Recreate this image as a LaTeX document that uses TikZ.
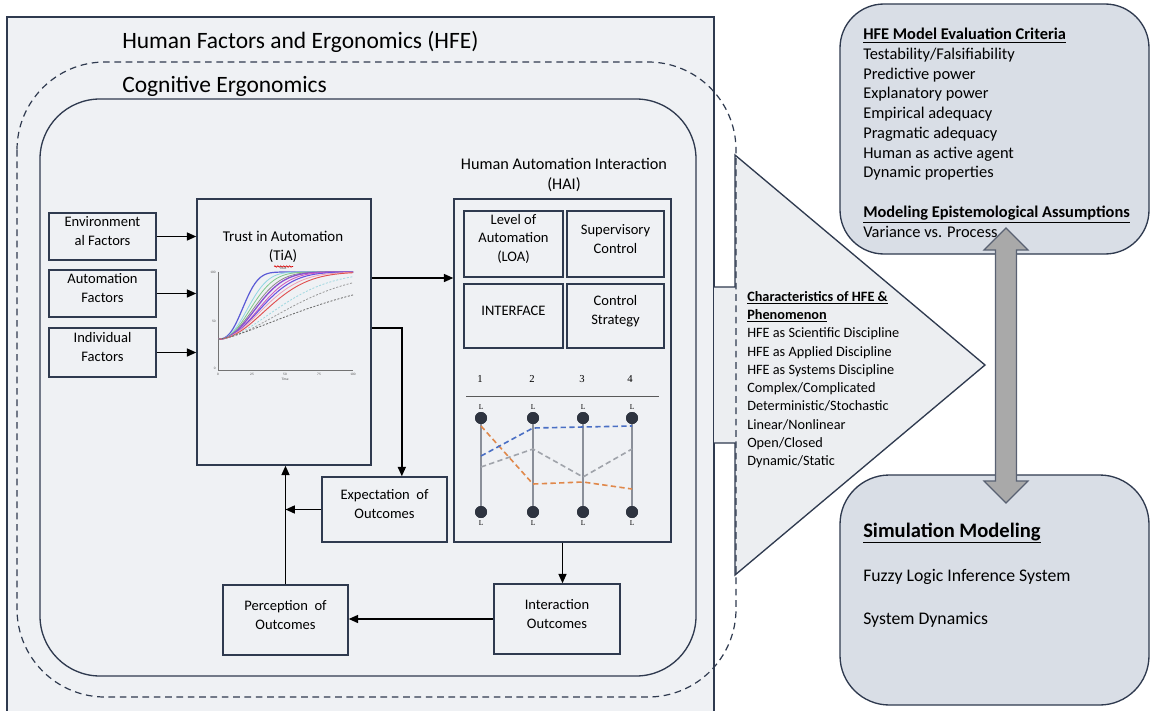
\documentclass[tikz,border=0pt]{standalone}
\usepackage{fontspec}
\setmainfont{Carlito}
\newfontfamily\chartserif{Liberation Serif}
\usetikzlibrary{fit,arrows.meta,decorations.pathmorphing}
\definecolor{bgfill}{HTML}{EFF1F4}
\definecolor{trifill}{HTML}{ECEEF1}
\definecolor{navy}{HTML}{2F3A4F}
\definecolor{rfill}{HTML}{D9DEE6}
\definecolor{arrfill}{HTML}{A9A9A9}
\definecolor{axisgray}{HTML}{8A8F99}
\definecolor{dotc}{HTML}{2E3440}
\definecolor{lblue}{HTML}{4A6FC4}
\definecolor{lorange}{HTML}{E0884A}
\definecolor{lgray}{HTML}{A0A4AB}
\definecolor{cA}{HTML}{5B5BD6}
\definecolor{cB}{HTML}{8FD6E3}
\definecolor{cC}{HTML}{7FC98A}
\definecolor{cD}{HTML}{8C8C8C}
\definecolor{cE}{HTML}{8A4FD0}
\definecolor{cF}{HTML}{D060C0}
\definecolor{cG}{HTML}{6A50E0}
\definecolor{cH}{HTML}{F0A0B5}
\definecolor{cI}{HTML}{E05050}
\definecolor{cJ}{HTML}{9FD8E0}
\newcommand\boxfont{\fontsize{10.9}{14.2}\selectfont}
\tikzset{
  box/.style={draw=navy, line width=1.1pt, fill=bgfill, inner sep=0pt, align=center, font=\boxfont},
  rbox/.style={draw=navy, line width=1pt, fill=rfill, inner sep=0pt},
  arr/.style={draw=black, line width=1.1pt, -{Triangle[length=7pt,width=6pt]}},
  dotn/.style={circle, fill=dotc, inner sep=0pt, minimum size=9pt},
  axl/.style={draw=axisgray, line width=0.9pt},
  pcl/.style={line width=1.2pt, dash pattern=on 4pt off 2.5pt},
  tl/.style={font=\chartserif\fontsize{5.5}{6}\selectfont, inner sep=0pt},
  tick/.style={font=\fontsize{2.6}{3}\selectfont, inner sep=0pt, text=black!70},
}
\begin{document}
\begin{tikzpicture}[x=0.75pt,y=-0.75pt]
\useasboundingbox (0,0) rectangle (1152,710);
\fill[white] (0,0) rectangle (1152,710);

% HFE outer rectangle
\draw[navy, line width=1pt, fill=bgfill] (7,17) -- (7,720) -- (714,720) -- (714,17) -- cycle;
\node[anchor=west, font=\fontsize{17.6}{20}\selectfont, inner sep=0pt] (hfeTitle) at (122,42) {Human Factors and Ergonomics (HFE)};

% block arrow (characteristics)
\fill[trifill] (714,287) -- (735,287) -- (735,155) -- (985,365) -- (735,575) -- (735,443) -- (714,443) -- cycle;
\draw[navy, line width=1pt] (714,287) -- (735,287) -- (735,155) -- (985,365) -- (735,575) -- (735,443) -- (714,443);

% dashed cognitive ergonomics region
\draw[navy, line width=0.9pt, dash pattern=on 5pt off 3.5pt, rounded corners=66pt] (17,62) rectangle (736,697);
\node[anchor=west, font=\fontsize{17.6}{20}\selectfont, inner sep=0pt] (ceTitle) at (122,86) {Cognitive Ergonomics};

% inner rounded region
\draw[navy, line width=1pt, fill=bgfill, rounded corners=45pt] (40,99) rectangle (696,676);

% factor boxes
\node[box, fit={(49,213)(156,260)}] (env) {Environment\\al Factors};
\node[box, fit={(49,270)(156,317)}] (autof) {Automation\\Factors};
\node[box, fit={(49,328)(156,377)}] (indiv) {Individual\\Factors};

% TiA box
\node[box, fit={(197,199)(371,465)}] (tia) {};
\node[align=center, font=\fontsize{11.2}{14}\selectfont, inner sep=0pt] (tiaTitle) at (283,247) {Trust in Automation\\(TiA)};
\draw[red!85!black, line width=0.5pt, decorate, decoration={snake, amplitude=0.5pt, segment length=2.2pt}] (274,266.5) -- (293,266.5);

% TiA plot
\draw[black!55, line width=0.4pt] (218,272) -- (218,370) -- (353,370);
\node[tick, anchor=east] (yt100) at (216,272) {100};
\node[tick, anchor=east] (yt50) at (216,321) {50};
\node[tick, anchor=east] (yt0) at (216,368) {0};
\node[tick] (xt0) at (218,374) {0};
\node[tick] (xt25) at (252,374) {25};
\node[tick] (xt50) at (285,374) {50};
\node[tick] (xt75) at (319,374) {75};
\node[tick] (xt100) at (353,374) {100};
\node[tick] (xlab) at (285,379) {Time};
\node[tick] (ptitle) at (283,268) {Trust};
\foreach \tau/\n/\c/\w in {22/2.6/cA/0.9, 27/2.4/cB/0.6, 30/2.3/cC/0.6, 33/2.2/cD/0.6, 35/2.2/cE/1.0, 38/2.2/cF/0.7, 40/2.1/cG/0.8, 43/2.0/cH/0.6, 47/2.0/cI/0.7}{
  \draw[\c, line width=\w pt] plot[domain=0.1:100, samples=45, smooth] ({218+1.35*\x},{368-0.96*(30+70*(1-exp(-((\x/\tau)^\n))))});
}
\draw[cJ, line width=0.6pt, dash pattern=on 1.5pt off 1.2pt] plot[domain=0.1:100, samples=45, smooth] ({218+1.35*\x},{368-0.96*(30+70*(1-exp(-((\x/58)^1.8))))});
\draw[black!40, line width=0.6pt, dash pattern=on 1.5pt off 1.2pt] plot[domain=0.1:100, samples=45, smooth] ({218+1.35*\x},{368-0.96*(30+70*(1-exp(-((\x/70)^1.7))))});
\draw[black!60, line width=0.6pt, dash pattern=on 1.5pt off 1.2pt] plot[domain=0.1:100, samples=45, smooth] ({218+1.35*\x},{368-0.96*(30+70*(1-exp(-((\x/95)^1.4))))});

% HAI
\node[align=center, font=\fontsize{12.2}{15}\selectfont, inner sep=0pt] (haiTitle) at (564,175) {Human Automation Interaction\\(HAI)};
\node[box, fit={(454,199)(671,542)}] (hai) {};
\node[box, fit={(464,211)(563,277)}] (loa) {Level of\\Automation\\(LOA)};
\node[box, fit={(567,211)(664,277)}] (sup) {Supervisory\\Control};
\node[box, fit={(464,284)(563,348)}] (intf) {INTERFACE};
\node[box, fit={(567,284)(664,348)}] (ctrl) {Control\\Strategy};

% parallel coordinates chart
\node[font=\chartserif\fontsize{8}{9}\selectfont, inner sep=0pt] (n1) at (480,379) {1};
\node[font=\chartserif\fontsize{8}{9}\selectfont, inner sep=0pt] (n2) at (532,379) {2};
\node[font=\chartserif\fontsize{8}{9}\selectfont, inner sep=0pt] (n3) at (582,379) {3};
\node[font=\chartserif\fontsize{8}{9}\selectfont, inner sep=0pt] (n4) at (630,379) {4};
\coordinate (hl1) at (466,396);
\coordinate (hl2) at (659,396);
\draw[black!65, line width=0.7pt] (hl1) -- (hl2);
\foreach \i/\xx in {1/481,2/533,3/583,4/632}{
  \node[dotn] (t\i) at (\xx,418) {};
  \node[dotn] (b\i) at (\xx,512) {};
  \draw[axl] (t\i) -- (b\i);
  \node[tl] (lt\i) at (\xx,407) {L};
  \node[tl] (lb\i) at (\xx,523) {L};
}
\draw[lorange, pcl] (481,426) -- (533,484) -- (583,482) -- (632,489);
\draw[lgray, pcl] (481,467) -- (533,449) -- (583,477) -- (632,449);
\draw[lblue, pcl] (481,456) -- (533,428) -- (583,427) -- (632,426);
\foreach \i in {1,2,3,4}{\node[dotn] at (t\i) {}; \node[dotn] at (b\i) {};}

% outcome boxes
\node[box, fit={(322,477)(447,542)}] (expect) {Expectation\ \ of\\Outcomes};
\node[box, fit={(223,585)(348,655)}] (percep) {Perception\ \ of\\Outcomes};
\node[box, fit={(494,584)(620,654)}] (inter) {Interaction\\Outcomes};

% connectors
\draw[arr] (env.east) -- (env.east -| tia.west);
\draw[arr] (autof.east) -- (autof.east -| tia.west);
\draw[arr] (indiv.east) -- (indiv.east -| tia.west);
\coordinate (tiaOutA) at ([yshift=40.5pt]tia.east);
\coordinate (tiaOutB) at ([yshift=3pt]tia.east);
\coordinate (expIn) at ([xshift=13pt]expect.north);
\draw[arr] (tiaOutA) -- (tiaOutA -| hai.west);
\draw[arr] (tiaOutB) -| (expIn);
\draw[arr] (expect.west) -- (expect.west -| percep.north);
\draw[arr] (percep.north) -- (percep.north |- tia.south);
\draw[arr] (hai.south) -- (hai.south |- inter.north);
\draw[arr] (inter.west) -- (inter.west -| percep.east);

% characteristics text
\node[anchor=north west, align=left, inner sep=0pt, font=\fontsize{10.7}{13.7}\selectfont] (charText) at (747,291) {%
\underline{\textbf{Characteristics of HFE \&}}\\
\underline{\textbf{Phenomenon}}\\
HFE as Scientific Discipline\\
HFE as Applied Discipline\\
HFE as Systems Discipline\\
Complex/Complicated\\
Deterministic/Stochastic\\
Linear/Nonlinear\\
Open/Closed\\
Dynamic/Static};

% right boxes
\node[rbox, rounded corners=33pt, fit={(840,4)(1149,254)}] (crit) {};
\node[rbox, rounded corners=37pt, fit={(840,475)(1149,705)}] (sim) {};
\node[anchor=north west, align=left, inner sep=0pt, font=\fontsize{12.3}{14.8}\selectfont] (critText) at (863,28) {%
\underline{\textbf{HFE Model Evaluation Criteria}}\\
Testability/Falsifiability\\
Predictive power\\
Explanatory power\\
Empirical adequacy\\
Pragmatic adequacy\\
Human as active agent\\
Dynamic properties\\[14.8pt]
\underline{\textbf{Modeling Epistemological Assumptions}}\\
Variance vs. Process};
\node[anchor=west, inner sep=0pt, font=\fontsize{15.4}{18}\selectfont] (simTitle) at (863,533) {\underline{\textbf{Simulation Modeling}}};
\node[anchor=west, inner sep=0pt, font=\fontsize{13.3}{15}\selectfont] (fuzzy) at (863,577) {Fuzzy Logic Inference System};
\node[anchor=west, inner sep=0pt, font=\fontsize{13.3}{15}\selectfont] (sysdyn) at (863,620) {System Dynamics};

% double block arrow
\draw[fill=arrfill, draw=navy!80, line width=0.9pt] (995.5,481) -- (984,481) -- (1006,503) -- (1028,481) -- (1016.5,481) -- (1016.5,250) -- (1028,250) -- (1006,228) -- (984,250) -- (995.5,250) -- cycle;
\end{tikzpicture}
\end{document}
